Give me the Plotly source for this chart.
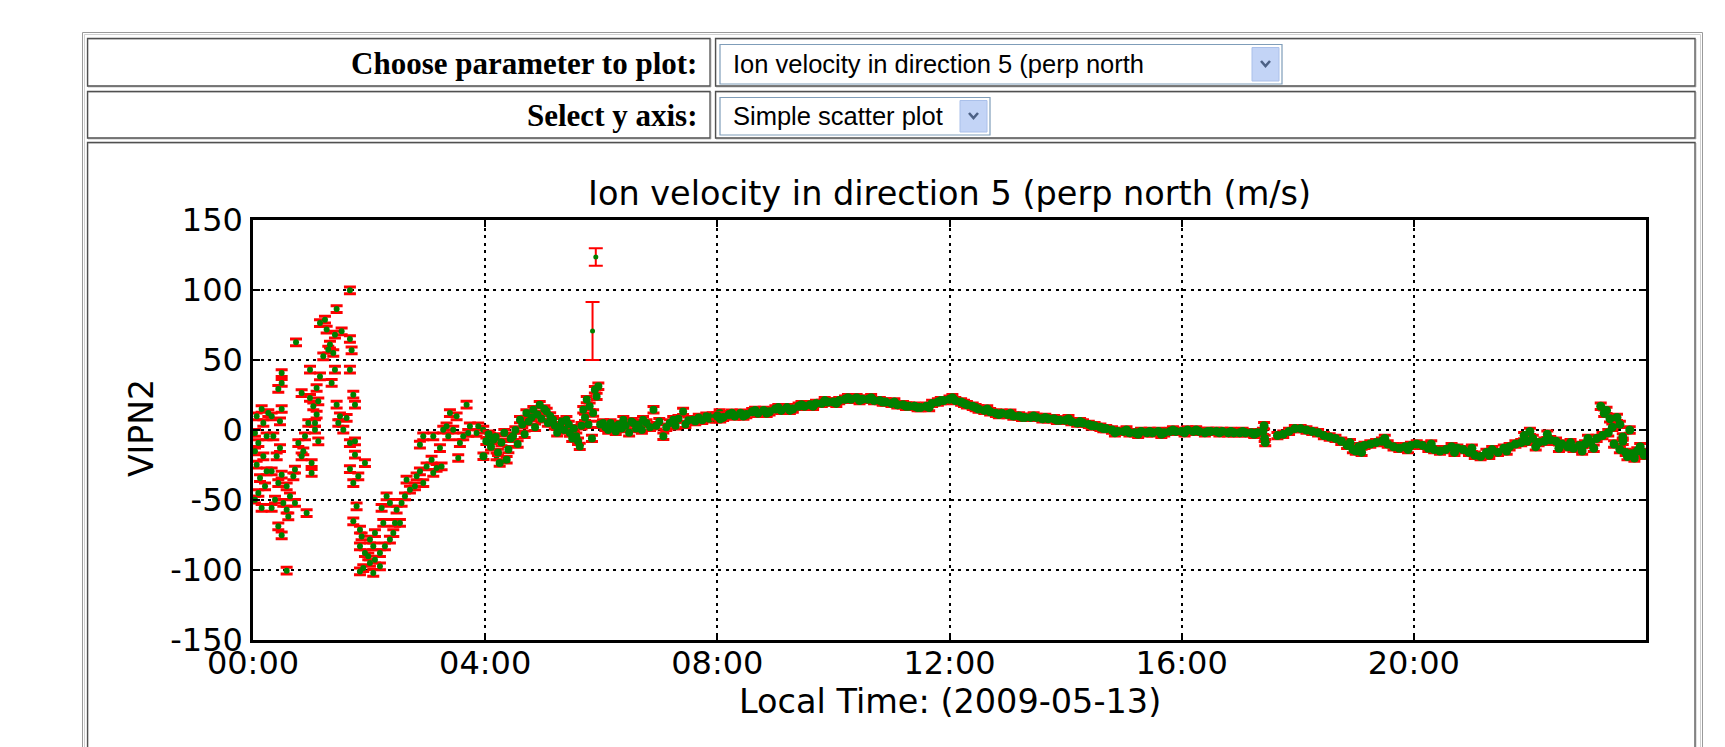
import plotly.graph_objects as go

# ---------------- data ----------------
title_text = "Ion velocity in direction 5 (perp north (m/s)"
x_title = "Local Time: (2009-05-13)"
y_title = "VIPN2"
param_label = "Choose parameter to plot:"
param_choice = "Ion velocity in direction 5 (perp north"
yaxis_label = "Select y axis:"
yaxis_choice = "Simple scatter plot"

tick_hours = [0, 4, 8, 12, 16, 20]
tick_text = ["00:00", "04:00", "08:00", "12:00", "16:00", "20:00"]
y_ticks = [-150, -100, -50, 0, 50, 100, 150]
y_tick_text = ["-150", "-100", "-50", "0", "50", "100", "150"]

# scattered early-morning measurements (hours, m/s)
scatter_t = [0.149, 0.063, 0.264, 0.178, 0.034, 0.235, 0.092, 0.034, 0.178, 0.063, 0.235, 0.121,
             0.207, 0.034, 0.149, 0.092,
             0.494, 0.494, 0.436, 0.494, 0.465, 0.321, 0.350, 0.465, 0.408, 0.321, 0.494, 0.436,
             0.580, 0.379, 0.522, 0.321, 0.580, 0.608, 0.436, 0.494, 0.580,
             0.741, 0.838, 0.781, 0.723, 0.695, 0.637, 0.723, 0.924, 0.838, 0.896, 0.953, 0.867,
             1.010, 1.010, 0.982, 1.039, 0.982, 1.096, 1.125, 1.154, 1.068, 1.096, 1.125, 1.068,
             1.154, 1.240, 1.269, 1.297, 1.211, 1.326, 1.383, 1.441, 1.412, 1.412, 1.355, 1.441,
             1.498, 1.470, 1.556, 1.527,
             1.670, 1.670, 1.699, 1.670, 1.728, 1.757, 1.613, 1.670, 1.757, 1.757, 1.670, 1.814,
             1.929, 1.728, 1.785,
             1.728, 1.843, 1.871, 1.843, 1.929, 2.015, 2.101, 2.072, 1.986, 2.101, 1.843, 1.900,
             2.072, 2.187, 2.245, 2.216, 2.302, 2.359, 2.474, 2.446, 2.417, 2.359, 2.532, 2.273,
             2.187, 2.015,
             2.560, 2.618, 2.704, 2.646, 2.819, 2.790, 2.876, 2.933, 2.991, 3.077, 3.106, 3.163,
             3.249, 2.933, 2.876, 3.106, 3.221, 3.335, 3.393, 3.508, 3.680, 3.536, 3.450, 3.622,
             3.737, 3.852, 3.967, 4.082, 4.196, 3.278, 3.364, 3.565, 3.708, 3.881]
scatter_v = [15.0, 9.8, 12.1, 5.0, -2.1, -4.5, -9.3, -15.2, -18.8, -24.8, -29.5, -34.3,
             -40.2, -49.8, -55.7, -45.0,
             40.7, 33.6, 29.3, 15.0, 6.2, 9.8, -4.5, -12.9, -18.8, -29.5, -31.9, -37.9,
             -40.2, -49.8, -52.1, -55.7, -56.9, -61.7, -68.8, -75.2, -100.5,
             62.6, 26.4, -9.3, -28.3, -33.1, -47.4, -52.1, -59.3, -18.8, -4.5, 5.0, -15.2,
             -23.6, -30.7, 22.9, 16.9, 43.1, 30.0, 20.5, 38.3, 5.0, 11.0, -8.1, 0.2,
             76.4, 78.8, 71.7, 57.4, 52.6, 61.0, 55.0, 86.4, 68.1, 43.1, 33.6, 18.1,
             9.8, 5.0, 0.2, 70.5,
             99.8, 65.0, 56.9, 43.1, 25.2, 18.1, 8.6, -9.3, -8.1, -17.6, -27.9, -33.1,
             -23.6, -37.9, -54.5,
             -65.2, -71.2, -76.0, -83.1, -87.9, -78.3, -73.6, -83.1, -90.2, -92.6, -101.0, -98.6,
             -102.1, -97.4, -66.4, -55.7, -47.4, -52.1, -56.9, -66.4, -73.6, -78.3, -66.4, -83.1,
             -87.9, -95.0,
             -52.1, -47.4, -42.6, -35.5, -33.1, -40.2, -29.5, -37.9, -26.0, -21.2, -30.7, -27.1,
             -26.0, -4.5, -10.5, -4.5, -12.9, 2.6, 12.1, 9.8, 18.1, -20.0, 0.2, -4.5,
             2.6, -2.1, 0.2, -4.5, -18.8, 0.2, -4.5, -9.3, -2.1, 2.6]

# noisy band, late morning (hours, m/s)
band_t = [3.97, 4.02, 4.06, 4.10, 4.14, 4.18, 4.22, 4.25, 4.28, 4.33, 4.37, 4.40, 4.44, 4.48,
          4.52, 4.56, 4.60, 4.64, 4.68, 4.71, 4.75, 4.80, 4.83, 4.86, 4.90, 4.94, 4.97, 5.02,
          5.06, 5.08, 5.12, 5.17, 5.20, 5.24, 5.29, 5.32, 5.36, 5.40, 5.44, 5.46, 5.50, 5.53,
          5.57, 5.60, 5.63, 5.66, 5.69, 5.72, 5.75, 5.78, 5.80, 5.84, 5.86, 5.89, 5.92, 5.95,
          5.98, 6.03, 6.07, 6.12, 6.16, 6.20, 6.25, 6.30, 6.35, 6.38, 6.42, 6.48, 6.52, 6.55,
          6.60, 6.65, 6.70, 6.72, 6.78, 6.84, 6.90, 6.95, 7.00, 7.07, 7.12, 7.18, 7.24, 7.28,
          7.33, 7.41, 7.45, 7.50, 7.58, 7.62, 7.68, 7.74, 7.81, 7.86, 7.92, 7.98, 8.04]
band_v = [-18.8, -8, -3, -12, -6.9, -5, -16, -23.6, -9, -2, -21.2, -14, -6, -4.5,
          0, -10, 7.4, 4, -3, 12.1, 6, 9, 14.5, 2, 11, 18.1, 8, 15,
          13.3, 5, 10, 7.4, 3, -2, 2.6, 6, 0, 7.4, 4, -2.1, -6, 1,
          -4.5, -8, -11.7, 3, 14.5, 9, 21.7, 4, 16.9, -6, 12.1, 28.8, 24.0, 31.2,
          4, 5.0, 2, 0, 5, 2.6, -1, 4, 1, 7.4, 3, -2, 6, 5.0,
          1, 4, 0, 7.4, 5, 2, 14.5, 3, 6, -4.5, 2, 5, 7.4, 3,
          8, 13.3, 4, 7, 7.4, 6, 9, 7, 9.8, 8, 10, 8, 12.1]

# smooth afternoon / evening trace (hours, m/s)
smooth_t = [8.00, 8.05, 8.10, 8.20, 8.25, 8.30, 8.40, 8.45, 8.50, 8.60, 8.65, 8.70, 8.80, 8.85, 8.90,
            9.00, 9.05, 9.10, 9.20, 9.25, 9.30, 9.40, 9.45, 9.50, 9.60, 9.65, 9.70, 9.80, 9.85, 9.90,
            10.00, 10.05, 10.10, 10.20, 10.25, 10.30, 10.40, 10.45, 10.50, 10.60, 10.65, 10.70, 10.80, 10.85, 10.90,
            11.00, 11.05, 11.10, 11.20, 11.25, 11.30, 11.40, 11.45, 11.50, 11.60, 11.65, 11.70, 11.80, 11.85, 11.90,
            12.00, 12.05, 12.10, 12.20, 12.25, 12.30, 12.40, 12.45, 12.50, 12.60, 12.65, 12.70, 12.80, 12.85, 12.90,
            13.00, 13.05, 13.10, 13.20, 13.25, 13.30, 13.40, 13.45, 13.50, 13.60, 13.65, 13.70, 13.80, 13.85, 13.90,
            14.00, 14.05, 14.10, 14.20, 14.25, 14.30, 14.40, 14.45, 14.50, 14.60, 14.65, 14.70, 14.80, 14.85, 14.90,
            15.00, 15.05, 15.10, 15.20, 15.25, 15.30, 15.40, 15.45, 15.50, 15.60, 15.65, 15.70, 15.80, 15.85, 15.90,
            16.00, 16.05, 16.10, 16.20, 16.25, 16.30, 16.40, 16.45, 16.50, 16.60, 16.65, 16.70, 16.80, 16.85, 16.90,
            17.00, 17.05, 17.10, 17.20, 17.25, 17.30, 17.40, 17.42, 17.43, 17.44,
            17.65, 17.75, 17.85, 17.95, 18.05, 18.15, 18.25, 18.35, 18.45, 18.55, 18.65, 18.75, 18.85, 18.90,
            18.95, 19.00, 19.05, 19.10, 19.15, 19.25, 19.35, 19.45, 19.50, 19.55, 19.65, 19.75, 19.85, 19.90,
            19.95, 20.05, 20.15, 20.25, 20.30, 20.35, 20.45, 20.55, 20.65, 20.70, 20.75, 20.85, 20.95, 21.00,
            21.05, 21.15, 21.25, 21.30, 21.35, 21.45, 21.55, 21.60, 21.65, 21.75, 21.85, 21.90, 21.95, 22.00,
            22.05, 22.10, 22.15, 22.25, 22.30, 22.35, 22.45, 22.50, 22.55, 22.65, 22.70, 22.75, 22.85, 22.90,
            22.95, 23.00, 23.05, 23.10, 23.15, 23.22, 23.25, 23.28, 23.32, 23.35, 23.38, 23.42, 23.45, 23.50,
            23.55, 23.55, 23.60, 23.60, 23.65, 23.68, 23.72, 23.75, 23.80, 23.85, 23.90, 23.95, 23.97]
smooth_v = [10, 8, 9, 11, 12, 10, 12, 10, 11, 13, 14, 12, 14, 12, 13,
            15, 16, 14, 16, 14, 15, 17, 18, 17, 18, 17, 19, 19, 21, 20,
            20, 19, 21, 22, 23, 22, 23, 21, 22, 22, 23, 21, 21, 20, 20,
            19, 20, 18, 18, 17, 17, 17, 16, 16, 17, 16, 19, 20, 21, 21,
            22, 23, 21, 20, 19, 18, 17, 16, 15, 14, 15, 13, 12, 11, 12,
            11, 12, 10, 10, 9, 9, 9, 10, 9, 8, 9, 8, 8, 7, 7,
            7, 8, 6, 5, 6, 5, 4, 3, 3, 2, 1, 1, 0, -2, -1,
            -1, 0, -2, -2, -3, -1, -2, -1, -2, -1, -3, -2, -1, 0, -1,
            -1, -2, 0, -1, 0, -1, -2, -1, -1, -1, -2, -1, -2, -1, -2,
            -2, -1, -2, -2, -3, -2, -1, 3, -6, -9,
            -4, -3, -1, 1, 1, 0, -1, -2, -4, -5, -6, -8, -11, -9,
            -14, -15, -12, -16, -11, -10, -9, -8, -6, -10, -12, -13, -12, -14,
            -11, -10, -11, -13, -10, -14, -15, -14, -12, -16, -13, -14, -16, -13,
            -18, -19, -16, -18, -14, -16, -13, -15, -12, -10, -9, -4, -8, -1,
            -6, -12, -9, -8, -3, -7, -8, -13, -10, -12, -9, -13, -11, -15,
            -10, -6, -9, -13, -6, 17, -4, 12, 14, -2, 8, 2, -10, 9,
            -14, 4, -5, -8, -16, -19, 0, -17, -20, -15, -12, -16, -18]

# two isolated high points near 06:00 with large error bars
outlier_t = [5.850, 5.906]
outlier_v = [70.7, 123.6]
outlier_err = [20.7, 6.2]

err_scatter = 2.4
err_band = 2.3
err_smooth = 2.3

# ---------------- page geometry helpers (pixels -> paper) ----------------
FIG_W, FIG_H = 1725, 747
L, R, T, B = 253, 1646, 220, 640
PW, PH = R - L, B - T


def px(x):
    return (x - L) / PW


def py(y):
    return (B - y) / PH


shapes = []


def rect(x0, y0, x1, y1, line, width=1, fill=None, layer="above"):
    shapes.append(dict(type="rect", xref="paper", yref="paper",
                       x0=px(x0), x1=px(x1), y0=py(y1), y1=py(y0),
                       line=dict(color=line, width=width),
                       fillcolor=fill if fill else "rgba(0,0,0,0)", layer=layer))


def polyline(pts, color, width):
    d = "M " + " L ".join(f"{px(a):.5f},{py(b):.5f}" for a, b in pts)
    shapes.append(dict(type="path", xref="paper", yref="paper", path=d,
                       line=dict(color=color, width=width), layer="above"))


# outer table (outset look)
rect(82.5, 32.5, 1702.5, 800, "#9a9a9a", 1)
rect(84.5, 34.5, 1700.5, 800, "#d0d0d0", 1)
# cells (inset look)
for (x0, y0, x1, y1) in [(88, 39, 711, 87), (716, 39, 1696, 87),
                         (88, 92, 711, 139), (716, 92, 1696, 139),
                         (88, 143, 1696, 800)]:
    rect(x0, y0, x1, y1, "#c4c4c4", 1, layer="below")
    rect(x0 - 0.5, y0 - 0.5, x1 - 1, y1 - 1, "#505050", 1.3, layer="below")

# dropdown boxes
rect(720, 44.5, 1282, 84, "#7f9db9", 1.2, fill="white")
rect(1252, 47.5, 1279, 81, "#aac0ea", 1, fill="#c3d4f6")
polyline([(1261, 61), (1265.5, 66), (1270, 61)], "#4d6185", 2.6)
rect(720, 97.5, 990, 135, "#7f9db9", 1.2, fill="white")
rect(960, 100.5, 987, 132, "#aac0ea", 1, fill="#c3d4f6")
polyline([(969, 113), (973.5, 118), (978, 113)], "#4d6185", 2.6)

annotations = [
    dict(text="<b>" + param_label + "</b>", x=px(699), y=py(63), xanchor="right", yanchor="middle",
         font=dict(family="Liberation Serif", size=31, color="black")),
    dict(text="<b>" + yaxis_label + "</b>", x=px(699), y=py(115), xanchor="right", yanchor="middle",
         font=dict(family="Liberation Serif", size=31, color="black")),
    dict(text=param_choice, x=px(731), y=py(64), xanchor="left", yanchor="middle",
         font=dict(family="Liberation Sans", size=25.5, color="black")),
    dict(text=yaxis_choice, x=px(731), y=py(116), xanchor="left", yanchor="middle",
         font=dict(family="Liberation Sans", size=25.5, color="black")),
    dict(text=title_text, x=0.5, y=py(193), xanchor="center", yanchor="middle",
         font=dict(family="DejaVu Sans", size=33.5, color="black")),
    dict(text=x_title, x=0.5, y=py(701), xanchor="center", yanchor="middle",
         font=dict(family="DejaVu Sans", size=33.5, color="black")),
    dict(text=y_title, x=px(141), y=py(428), xanchor="center", yanchor="middle", textangle=-90,
         font=dict(family="DejaVu Sans", size=33, color="black")),
]
for a in annotations:
    a.update(xref="paper", yref="paper", showarrow=False)

GREEN = "#008000"
RED = "#ff0000"


def series(t, v, err, size=6, cap=6, thick=3):
    if isinstance(err, list):
        ey = dict(type="data", array=err, color=RED, thickness=thick, width=cap)
    else:
        ey = dict(type="constant", value=err, color=RED, thickness=thick, width=cap)
    return go.Scatter(x=t, y=v, mode="markers", error_y=ey,
                      marker=dict(color=GREEN, size=size, line=dict(width=0)),
                      showlegend=False, hoverinfo="skip")


fig = go.Figure()
fig.add_trace(series(scatter_t, scatter_v, err_scatter, size=6))
fig.add_trace(series(band_t, band_v, err_band, size=8))
fig.add_trace(series(smooth_t, smooth_v, err_smooth, size=9))
fig.add_trace(series(outlier_t, outlier_v, outlier_err, size=5, cap=7, thick=2))

axis_common = dict(showline=True, linecolor="black", linewidth=2.5, mirror="ticks",
                   ticks="inside", ticklen=7, tickwidth=1.5, tickcolor="black",
                   showgrid=True, gridcolor="black", gridwidth=1.7, griddash="3px,4.5px",
                   zeroline=False, automargin=False,
                   tickfont=dict(family="DejaVu Sans", size=32, color="black"))

fig.update_layout(
    width=FIG_W, height=FIG_H, autosize=False,
    margin=dict(l=L, r=FIG_W - R, t=T, b=FIG_H - B, pad=0),
    paper_bgcolor="white", plot_bgcolor="white",
    shapes=shapes, annotations=annotations,
    xaxis=dict(range=[0, 24], tickvals=tick_hours, ticktext=tick_text, ticklabelstandoff=-7,
               **axis_common),
    yaxis=dict(range=[-150, 150], tickvals=y_ticks, ticktext=y_tick_text, ticklabelstandoff=1,
               **axis_common),
)

fig.write_html("out.html")
